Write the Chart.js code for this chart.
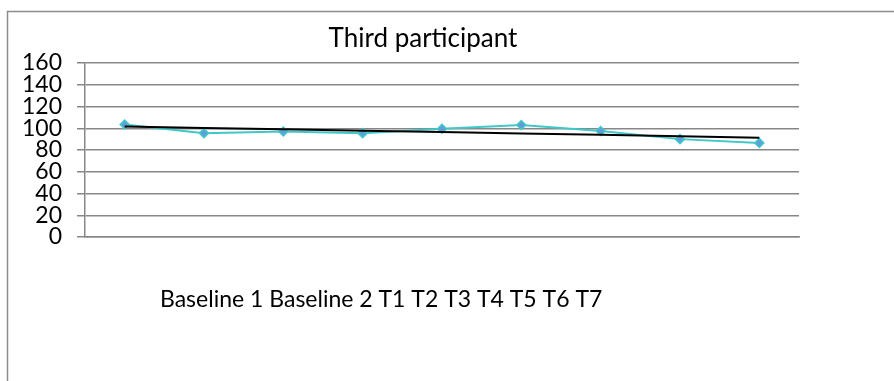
<!DOCTYPE html>
<html>
<head>
<meta charset="utf-8">
<script src="https://cdn.jsdelivr.net/npm/chart.js@4.4.1/dist/chart.umd.min.js"></script>
<style>
  html, body { margin: 0; padding: 0; background: #ffffff; }
  #wrap { position: relative; width: 894px; height: 381px; }
</style>
</head>
<body>
<div id="wrap"><canvas id="c" width="894" height="381"></canvas></div>
<script>
// ---- data ----
const chartTitle = "Third participant";
const categories = ["Baseline 1", "Baseline 2", "T1", "T2", "T3", "T4", "T5", "T6", "T7"];
const scores = [103.5, 95.5, 97, 95.5, 99.5, 103, 97.5, 90, 86.5];
const yTicks = [0, 20, 40, 60, 80, 100, 120, 140, 160];

// linear trendline (least squares), as in the original spreadsheet chart
function linearTrend(vals) {
  const n = vals.length;
  let sx = 0, sy = 0, sxx = 0, sxy = 0;
  vals.forEach((v, i) => { sx += i; sy += v; sxx += i * i; sxy += i * v; });
  const b = (n * sxy - sx * sy) / (n * sxx - sx * sx);
  const a = (sy - b * sx) / n;
  return vals.map((_, i) => a + b * i);
}
const trend = linearTrend(scores);

const FONT = "Lato, 'DejaVu Sans', sans-serif";
const GRID = "#878787";

const decor = {
  id: "decor",
  beforeDraw(chart) {
    const ctx = chart.ctx;
    ctx.save();
    ctx.fillStyle = "#ffffff";
    ctx.fillRect(0, 0, chart.width, chart.height);
    // outer frame (left + top visible)
    ctx.strokeStyle = "#8c8c8c";
    ctx.lineWidth = 1.5;
    ctx.beginPath();
    ctx.moveTo(7.5, chart.height + 2);
    ctx.lineTo(7.5, 11.5);
    ctx.lineTo(chart.width + 2, 11.5);
    ctx.stroke();
    ctx.restore();
  },
  afterDraw(chart) {
    const ctx = chart.ctx;
    ctx.save();
    ctx.fillStyle = "#000000";
    ctx.textBaseline = "alphabetic";
    ctx.font = "26px " + FONT;
    ctx.textAlign = "center";
    ctx.fillText(chartTitle, 423, 47);
    ctx.font = "23px " + FONT;
    ctx.textAlign = "left";
    ctx.fillText(categories.join(" "), 160, 307);
    ctx.restore();
  }
};

new Chart(document.getElementById("c"), {
  type: "line",
  data: {
    labels: categories,
    datasets: [
      {
        label: "Score",
        data: scores,
        borderColor: "#40c8c8",
        borderWidth: 2,
        backgroundColor: "#5f9ed8",
        pointStyle: "rectRot",
        pointRadius: 4.5,
        pointBorderColor: "#40c8c8",
        pointBorderWidth: 1.5,
        tension: 0,
        order: 2
      },
      {
        label: "Linear trend",
        data: trend,
        borderColor: "#000000",
        borderWidth: 2,
        pointRadius: 0,
        tension: 0,
        order: 1
      }
    ]
  },
  options: {
    responsive: false,
    animation: false,
    devicePixelRatio: 1,
    layout: { padding: { left: 0, right: 95, top: 63, bottom: 144 } },
    plugins: {
      legend: { display: false },
      title: { display: false },
      tooltip: { enabled: false }
    },
    scales: {
      x: {
        type: "category",
        offset: true,
        ticks: { display: false },
        grid: { display: false, drawTicks: false },
        border: { display: true, color: GRID, width: 1.5 }
      },
      y: {
        min: 0,
        max: 160,
        afterBuildTicks(scale) { scale.ticks = yTicks.map(v => ({ value: v })); },
        afterFit(scale) { scale.width = 85; },
        ticks: {
          color: "#000000",
          font: { family: FONT, size: 23 },
          padding: 15,
          autoSkip: false
        },
        grid: { color: GRID, lineWidth: 1.5, tickLength: 8, drawTicks: true },
        border: { display: true, color: GRID, width: 1.5 }
      }
    }
  },
  plugins: [decor]
});
</script>
</body>
</html>
